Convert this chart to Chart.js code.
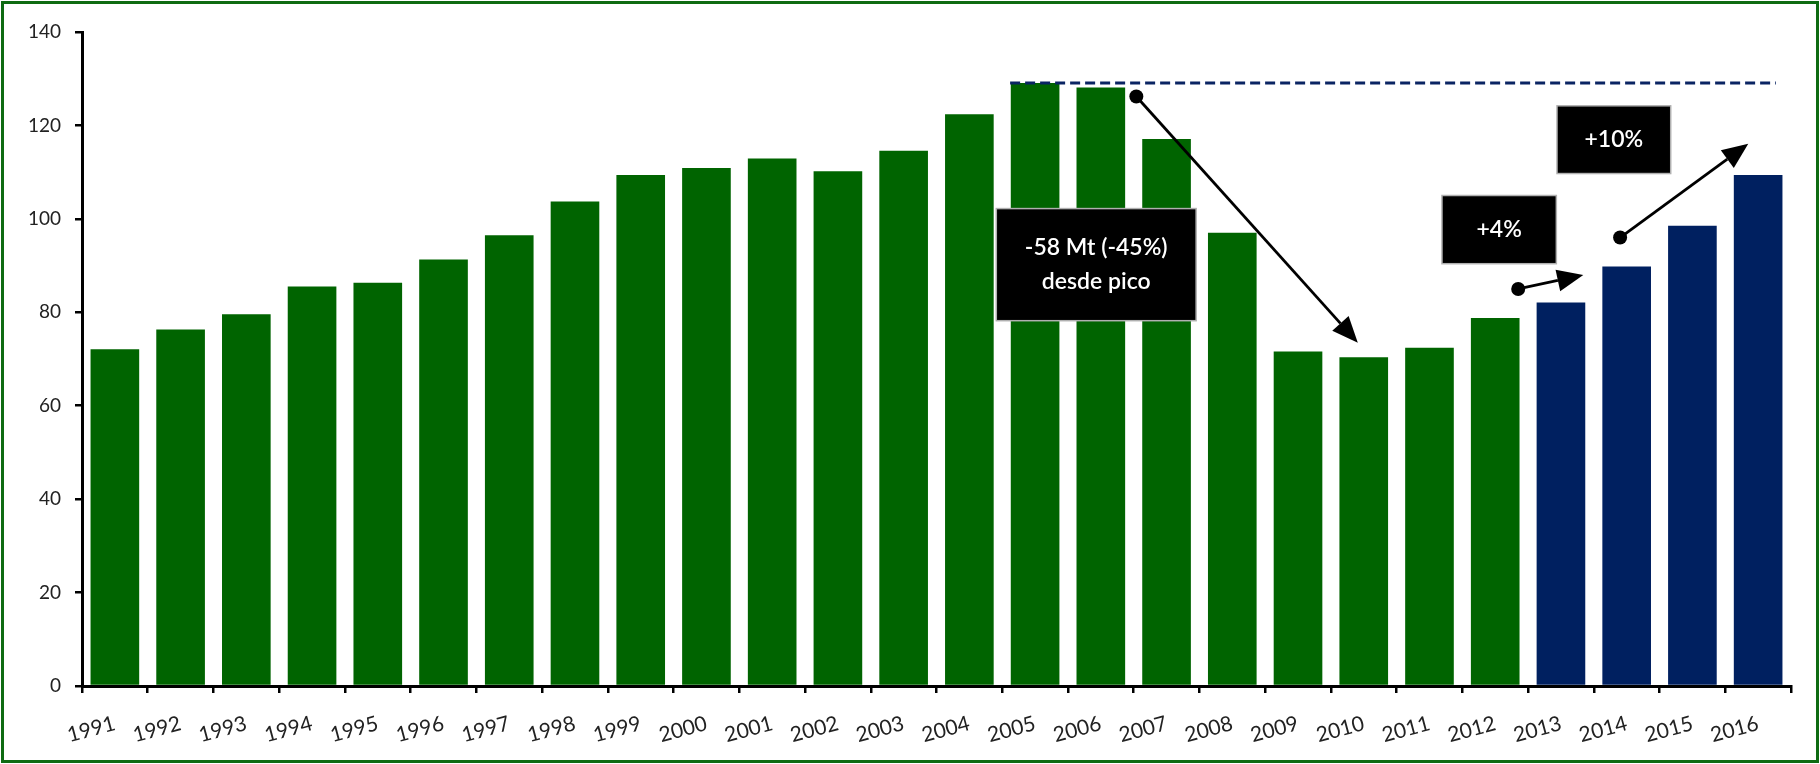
<!DOCTYPE html>
<html>
<head>
<meta charset="utf-8">
<script src="https://cdn.jsdelivr.net/npm/chart.js@4.4.1/dist/chart.umd.min.js"></script>
<style>
    html, body { margin: 0; padding: 0; background: #fff; }
</style>
</head>
<body>
<canvas id="coalChart" width="1820" height="764"></canvas>
<script>
// data (Mt)
const years = ["1991", "1992", "1993", "1994", "1995", "1996", "1997", "1998", "1999", "2000",
    "2001", "2002", "2003", "2004", "2005", "2006", "2007", "2008", "2009", "2010",
    "2011", "2012", "2013", "2014", "2015", "2016"];
const values = [72.1, 76.3, 79.6, 85.5, 86.3, 91.3, 96.5, 103.7, 109.4, 110.9,
    112.9, 110.2, 114.6, 122.4, 129.1, 128.1, 117.1, 97.0, 71.6, 70.4,
    72.4, 78.8, 82.1, 89.8, 98.5, 109.4];
const forecastYears = ["2013", "2014", "2015", "2016"];
const yTicks = [0, 20, 40, 60, 80, 100, 120, 140];

// annotations, in category index / value units
const noteBoxes = [
    { x0: 13.41, x1: 16.45, y0: 102.2, y1: 78.2, lines: ["-58 Mt (-45%)", "desde pico"] },
    { x0: 20.19, x1: 21.93, y0: 105.0, y1: 90.4, lines: ["+4%"] },
    { x0: 21.94, x1: 23.67, y0: 124.2, y1: 109.7, lines: ["+10%"] }
];
const noteArrows = [
    { from: [15.54, 126.2], to: [18.91, 73.5] },
    { from: [21.35, 85.0], to: [22.34, 88.0] },
    { from: [22.9, 96.0], to: [24.85, 116.1] }
];
const peakLineFrom = 13.62;
const peakLineTo = 25.27;

const green = "#006400";
const navy = "#002060";
const font = "Lato, 'Open Sans', sans-serif";

// dashed peak line, text boxes, arrows and outer frame
const annotate = {
    id: "annotate",
    afterDatasetsDraw(chart) {
        const { ctx, scales: { x, y } } = chart;
        ctx.save();

        // peak line
        const peakY = y.getPixelForValue(Math.max(...values));
        ctx.strokeStyle = "#0a2463";
        ctx.lineWidth = 3;
        ctx.setLineDash([10, 5]);
        ctx.beginPath();
        ctx.moveTo(x.getPixelForValue(peakLineFrom), peakY);
        ctx.lineTo(x.getPixelForValue(peakLineTo), peakY);
        ctx.stroke();
        ctx.setLineDash([]);

        // boxes
        noteBoxes.forEach(b => {
            const l = x.getPixelForValue(b.x0), r = x.getPixelForValue(b.x1);
            const t = y.getPixelForValue(b.y0), btm = y.getPixelForValue(b.y1);
            ctx.fillStyle = "#000";
            ctx.fillRect(l, t, r - l, btm - t);
            ctx.strokeStyle = "#b0b0b0";
            ctx.lineWidth = 1.5;
            ctx.strokeRect(l, t, r - l, btm - t);
            ctx.fillStyle = "#fff";
            ctx.font = "600 23px " + font;
            ctx.textAlign = "center";
            ctx.textBaseline = "middle";
            const lh = 34;
            const cy = (t + btm) / 2 - (b.lines.length - 1) * lh / 2;
            b.lines.forEach((txt, i) => ctx.fillText(txt, (l + r) / 2, cy + i * lh));
        });

        // arrows
        noteArrows.forEach(a => {
            const x1 = x.getPixelForValue(a.from[0]), y1 = y.getPixelForValue(a.from[1]);
            const x2 = x.getPixelForValue(a.to[0]), y2 = y.getPixelForValue(a.to[1]);
            const ang = Math.atan2(y2 - y1, x2 - x1);
            const head = 26, half = 11;
            ctx.strokeStyle = "#000";
            ctx.fillStyle = "#000";
            ctx.lineWidth = 2.8;
            ctx.beginPath();
            ctx.moveTo(x1, y1);
            ctx.lineTo(x2 - head * Math.cos(ang), y2 - head * Math.sin(ang));
            ctx.stroke();
            ctx.beginPath();
            ctx.arc(x1, y1, 7, 0, Math.PI * 2);
            ctx.fill();
            const bx = x2 - head * Math.cos(ang), by = y2 - head * Math.sin(ang);
            ctx.beginPath();
            ctx.moveTo(x2, y2);
            ctx.lineTo(bx + half * Math.sin(ang), by - half * Math.cos(ang));
            ctx.lineTo(bx - half * Math.sin(ang), by + half * Math.cos(ang));
            ctx.closePath();
            ctx.fill();
        });
        ctx.restore();
    },
    afterDraw(chart) {
        const ctx = chart.ctx;
        ctx.save();
        ctx.strokeStyle = "#0e6b12";
        ctx.lineWidth = 3;
        ctx.strokeRect(2.5, 2.5, chart.width - 5, chart.height - 5);
        ctx.restore();
    }
};

new Chart(document.getElementById("coalChart"), {
    type: "bar",
    data: {
        labels: years,
        datasets: [{
            data: values,
            backgroundColor: years.map(yr => forecastYears.includes(yr) ? navy : green),
            borderWidth: 0,
            categoryPercentage: 1,
            barPercentage: 0.74
        }]
    },
    options: {
        responsive: false,
        animation: false,
        layout: { padding: { top: 32, right: 29, bottom: 0, left: 0 } },
        plugins: { legend: { display: false }, tooltip: { enabled: false } },
        scales: {
            x: {
                offset: true,
                grid: { offset: true, drawOnChartArea: false, drawTicks: true, tickLength: 7, color: "#000", lineWidth: 2.5 },
                border: { color: "#000", width: 3 },
                ticks: { color: "#222", font: { family: font, size: 21 }, minRotation: 15, maxRotation: 15, padding: 18, autoSkip: false },
                afterFit(s) { s.height = 78; }
            },
            y: {
                min: yTicks[0],
                max: yTicks[yTicks.length - 1],
                afterBuildTicks(s) { s.ticks = yTicks.map(v => ({ value: v })); },
                grid: { drawOnChartArea: false, drawTicks: true, tickLength: 7, color: "#000", lineWidth: 2.5 },
                border: { color: "#000", width: 3 },
                ticks: { color: "#222", font: { family: font, size: 19 }, padding: 14 },
                afterFit(s) { s.width = 82; }
            }
        }
    },
    plugins: [annotate]
});
</script>
</body>
</html>
